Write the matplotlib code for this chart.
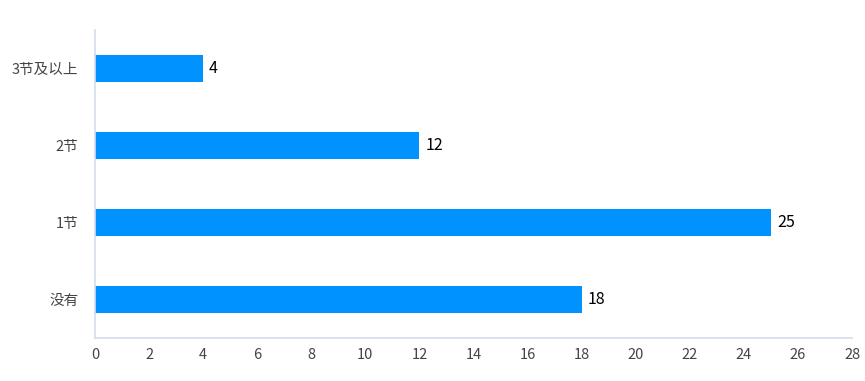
import matplotlib
matplotlib.use("Agg")
import matplotlib.pyplot as plt

plt.rcParams['font.family'] = ['Noto Sans CJK SC', 'DejaVu Sans']

categories = ["没有", "1节", "2节", "3节及以上"]
values = [18, 25, 12, 4]
x_ticks = list(range(0, 29, 2))

fig = plt.figure(figsize=(8.65, 3.81), dpi=100)
ax = fig.add_axes([0.1098, 0.1129, 0.8752, 0.8083])

y = range(len(categories))
ax.barh(y, values, height=0.35, color="#0092FF")
for yi, v in zip(y, values):
    ax.text(v + 0.22, yi, str(v), va="center", ha="left", fontsize=11.5, color="#000000")

ax.set_xlim(0, 28)
ax.set_ylim(-0.5, len(categories) - 0.5)
ax.set_xticks(x_ticks)
ax.set_yticks(list(y))
ax.set_yticklabels(categories)
ax.tick_params(axis="both", length=0, labelsize=10.5, colors="#444444")
ax.tick_params(axis="x", pad=7)
ax.tick_params(axis="y", pad=12)

for s in ["top", "right"]:
    ax.spines[s].set_visible(False)
for s in ["left", "bottom"]:
    ax.spines[s].set_color("#D6DCEE")
    ax.spines[s].set_linewidth(1.2)

fig.savefig("out.png", dpi=100)
